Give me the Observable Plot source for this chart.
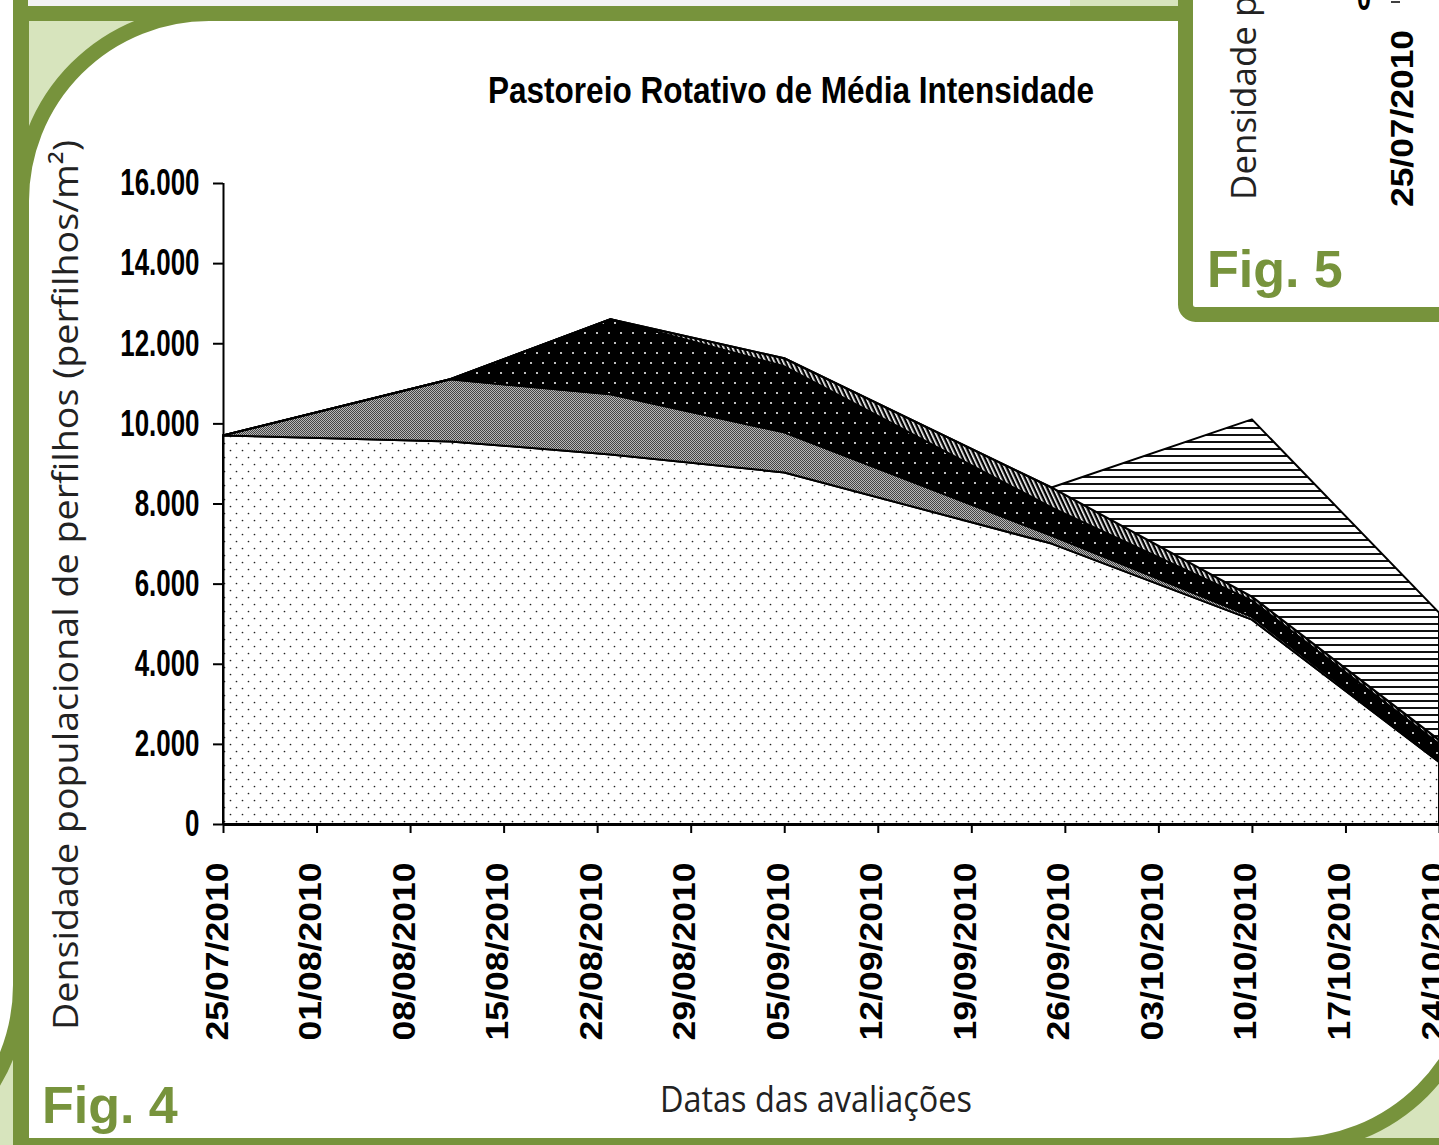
<!DOCTYPE html>
<html><head><meta charset="utf-8">
<script src="https://cdn.jsdelivr.net/npm/d3@7"></script>
<script src="https://cdn.jsdelivr.net/npm/@observablehq/plot@0.6"></script>
<style>
html,body{margin:0;padding:0;background:#fff;}
body{width:1439px;height:1145px;overflow:hidden;position:relative;}
.layer{position:absolute;left:0;top:0;}
</style></head><body>
<svg class="layer" id="frame" width="1439" height="1145">
  <defs>
    <pattern id="pDots" width="12" height="14" patternUnits="userSpaceOnUse">
      <rect width="12" height="14" fill="#fff"/>
      <circle cx="2.5" cy="2.5" r="0.85" fill="#222"/>
      <circle cx="8.5" cy="9.5" r="0.85" fill="#222"/>
    </pattern>
    <pattern id="pGray" width="2" height="2" patternUnits="userSpaceOnUse">
      <rect width="2" height="2" fill="#b8b8b8"/>
      <rect width="1" height="1" fill="#444"/>
      <rect x="1" y="1" width="1" height="1" fill="#444"/>
    </pattern>
    <pattern id="pBlackDots" width="12" height="20" patternUnits="userSpaceOnUse">
      <rect width="12" height="20" fill="#000"/>
      <circle cx="3" cy="3" r="1" fill="#fff"/>
      <circle cx="9" cy="13" r="1" fill="#fff"/>
    </pattern>
    <pattern id="pDiag" width="4" height="4" patternUnits="userSpaceOnUse" patternTransform="rotate(-25)">
      <rect width="4" height="4" fill="#000"/>
      <rect x="0" width="1.6" height="4" fill="#fff"/>
    </pattern>
    <pattern id="pHoriz" width="10" height="7" patternUnits="userSpaceOnUse">
      <rect width="10" height="7" fill="#fff"/>
      <rect y="0" width="10" height="2" fill="#111"/>
    </pattern>
  </defs>
  <rect width="1439" height="1145" fill="#fff"/>
  <rect x="0" y="0" width="1439" height="6" fill="#f3f3f3"/>
  <rect x="1070" y="0" width="120" height="6" fill="#d7e4bd"/>
  <!-- neighbouring panel corner on the far left -->
  <rect x="0" y="940" width="14" height="210" fill="#d7e4bd"/>
  <path d="M-400,-100 L20.5,-100 L20.5,985 A187.5,187.5 0 0 1 -167,1172.5 L-400,1172.5 Z" fill="#fff" stroke="#77933c" stroke-width="15"/>
  <!-- main panel -->
  <rect x="13" y="6" width="1500" height="1200" fill="#d7e4bd"/>
  <path d="M21.5,201 A187.5,187.5 0 0 1 209,13.5 L1477.5,13.5 L1477.5,958 A187.5,187.5 0 0 1 1290,1145.5 L21.5,1145.5 Z" fill="#fff" stroke="#77933c" stroke-width="15"/>
  <rect x="13" y="6" width="1500" height="15" fill="#77933c"/>
  <rect x="13" y="6" width="16" height="1145" fill="#77933c"/>
  <rect x="13" y="1138" width="1500" height="10" fill="#77933c"/>
  <!-- texts -->
  <text x="488" y="103" font-family="Liberation Sans, Arial, sans-serif" font-weight="bold" font-size="36" textLength="606" lengthAdjust="spacingAndGlyphs" fill="#000">Pastoreio Rotativo de Média Intensidade</text>
  <text transform="translate(78,585) rotate(-90)" text-anchor="middle" font-family="Open Sans, sans-serif" font-size="35" fill="#222" textLength="890" lengthAdjust="spacingAndGlyphs">Densidade populacional de perfilhos (perfilhos/m²)</text>
  <text x="816" y="1112" text-anchor="middle" font-family="Open Sans, sans-serif" font-size="36" fill="#222" textLength="312" lengthAdjust="spacingAndGlyphs">Datas das avaliações</text>
  <text x="42" y="1123" font-family="Liberation Sans, Arial, sans-serif" font-weight="bold" font-size="52" fill="#77933c">Fig. 4</text>
</svg>
<div id="chart" class="layer"></div>
<svg class="layer" id="fig5" width="1439" height="1145" style="pointer-events:none">
  <rect x="1185.5" y="-40" width="300" height="354.5" rx="10" fill="#fff" stroke="#77933c" stroke-width="15"/>
  <text transform="translate(1256,200) rotate(-90)" font-family="Open Sans, sans-serif" font-size="35" fill="#222">Densidade populacional de perfilhos (perfilhos/m²)</text>
  <text transform="translate(1413,207) rotate(-90)" font-family="Liberation Sans, Arial, sans-serif" font-weight="bold" font-size="32" textLength="177" lengthAdjust="spacingAndGlyphs" fill="#000">25/07/2010</text>
  <text x="1371" y="10" text-anchor="end" font-family="Liberation Sans, Arial, sans-serif" font-weight="bold" font-size="37" textLength="14" lengthAdjust="spacingAndGlyphs" fill="#000">0</text>
  <line x1="1391" x2="1400" y1="2" y2="2" stroke="#000" stroke-width="1.5"/>
  <text x="1207" y="287" font-family="Liberation Sans, Arial, sans-serif" font-weight="bold" font-size="52" fill="#77933c">Fig. 5</text>
</svg>
<script>
// ---- data ----
const dates = ["2010-07-25", "2010-08-11", "2010-08-23", "2010-09-05", "2010-09-25", "2010-10-10", "2010-10-24"];
const seriesNames = ["Série 1", "Série 2", "Série 3", "Série 4", "Série 5"];
const serie1 = [9700, 9550, 9225, 8775, 7000, 5100, 1550];
const serie2 = [0, 1550, 1500, 1000, 200, 75, 50];
const serie3 = [0, 0, 1875, 1650, 700, 400, 400];
const serie4 = [0, 0, 0, 200, 500, 100, 100];
const serie5 = [0, 0, 0, 0, 0, 4425, 3175];
const yTicks = [0, 2000, 4000, 6000, 8000, 10000, 12000, 14000, 16000];
const xTickLabels = ["25/07/2010", "01/08/2010", "08/08/2010", "15/08/2010", "22/08/2010", "29/08/2010", "05/09/2010",
  "12/09/2010", "19/09/2010", "26/09/2010", "03/10/2010", "10/10/2010", "17/10/2010", "24/10/2010"];
const patternFills = ["url(#pDots)", "url(#pGray)", "url(#pBlackDots)", "url(#pDiag)", "url(#pHoriz)"];

// ---- build ----
const allSeries = [serie1, serie2, serie3, serie4, serie5];
const rows = [];
allSeries.forEach((vals, i) => vals.forEach((v, j) => rows.push({date: new Date(dates[j]), series: seriesNames[i], value: v})));
const tickDates = xTickLabels.map(s => { const [d, m, y] = s.split("/"); return new Date(Date.UTC(+y, +m - 1, +d)); });
const start = tickDates[0], end = tickDates[tickDates.length - 1];
const loc = d3.formatLocale({decimal: ",", thousands: ".", grouping: [3], currency: ["", ""]});
const fmt = loc.format(",");
const FONT = "Liberation Sans, Arial, sans-serif";

const plot = Plot.plot({
  width: 1439, height: 1145,
  marginLeft: 223, marginRight: 0, marginTop: 183, marginBottom: 321,
  style: {background: "transparent"},
  x: {type: "utc", domain: [start, end], axis: null},
  y: {domain: [0, 16000], axis: null},
  color: {type: "ordinal", domain: seriesNames, range: patternFills},
  marks: [
    Plot.areaY(rows, Plot.stackY({x: "date", y: "value", z: "series", fill: "series", stroke: "#000", strokeWidth: 2, strokeLinejoin: "round"})),
    Plot.axisY({ticks: yTicks, tickSize: 10, tickFormat: () => "", label: null, stroke: "#000", strokeWidth: 2}),
    Plot.axisX({ticks: tickDates, tickSize: 9, tickFormat: () => "", label: null, stroke: "#000", strokeWidth: 2}),
    Plot.ruleX([start], {y1: 0, y2: 16000, stroke: "#000", strokeWidth: 2}),
    Plot.ruleY([0], {stroke: "#000", strokeWidth: 3}),
    Plot.text(yTicks, {y: d => d, frameAnchor: "left", text: d => fmt(d), textAnchor: "end", dx: -24,
      fontSize: 37, fontWeight: "bold", fontFamily: FONT, fill: "#000"}),
    Plot.text(tickDates, {x: d => d, frameAnchor: "bottom", text: (d, i) => xTickLabels[i], rotate: -90, textAnchor: "end",
      dy: 38, dx: 4, fontSize: 32, fontWeight: "bold", fontFamily: FONT, fill: "#000"})
  ]
});
document.getElementById("chart").append(plot);
plot.querySelectorAll("text").forEach(t => {
  const s = t.textContent;
  if (!s) return;
  const tr = t.getAttribute("transform") || "";
  if (tr.includes("rotate")) {
    t.setAttribute("textLength", "178");
  } else {
    const w = t.getComputedTextLength();
    t.setAttribute("textLength", (w * 0.7).toFixed(1));
  }
  t.setAttribute("lengthAdjust", "spacingAndGlyphs");
});
</script>
</body></html>
